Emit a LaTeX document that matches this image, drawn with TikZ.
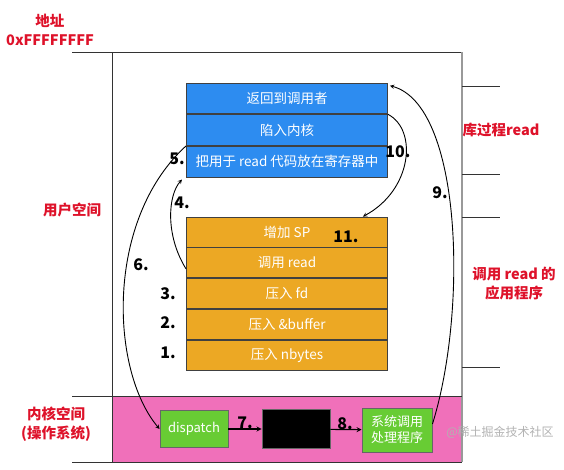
\documentclass[tikz,border=0pt]{standalone}
\usepackage{fontspec}
\setmainfont{Noto Sans CJK SC}
\usetikzlibrary{positioning}
\definecolor{userblue}{RGB}{45,140,240}
\definecolor{stackorange}{RGB}{236,168,36}
\definecolor{kernpink}{RGB}{240,112,186}
\definecolor{procgreen}{RGB}{104,204,52}
\definecolor{labelred}{RGB}{222,18,42}

\tikzset{
  bluerow/.style={draw=black!75,fill=userblue,text=white,minimum width=201pt,minimum height=30.7pt,inner sep=0pt,font=\fontsize{13.5}{15}\selectfont},
  orangerow/.style={bluerow,fill=stackorange,minimum height=30pt},
  procbox/.style={draw=black!60,fill=procgreen,text=white,inner sep=0pt,align=center,font=\fontsize{13}{16}\selectfont},
  steplabel/.style={font=\fontsize{16}{18}\selectfont\bfseries},
  arealabel/.style={text=labelred,align=center,font=\fontsize{14.5}{19}\selectfont\bfseries}
}

\begin{document}
\begin{tikzpicture}[>=stealth,x=1pt,y=-1pt,line width=0.9pt]
\useasboundingbox (0,0) rectangle (564,469);
% kernel band and frame
\fill[kernpink] (112,396) rectangle (462,462);
\draw[black!80] (72,52) -- (462,52);
\draw[black!80] (112,52) -- (112,462);
\draw[black!40,line width=1.4pt] (462,52) -- (462,462);
\draw[black!80] (72,396) -- (462,396);
\draw[black!80] (72,462) -- (462,462);
\foreach \y in {86,174,217,367}
  \draw[black!80] (462,\y) -- (500,\y);

% library procedure
\node[bluerow] (ret) at (287,98.5) {返回到调用者};
\node[bluerow,below=0pt of ret] (trap) {陷入内核};
\node[bluerow,below=0pt of trap] (reg) {把用于 read 代码放在寄存器中};

% application
\node[orangerow] (sp) at (287,232) {增加 SP};
\node[orangerow,below=0pt of sp] (call) {调用 read};
\node[orangerow,below=0pt of call] (fd) {压入 fd};
\node[orangerow,below=0pt of fd] (buf) {压入 \&buffer};
\node[orangerow,below=0pt of buf] (nb) {压入 nbytes};

% kernel
\node[procbox,minimum width=68pt,minimum height=37pt] (disp) at (194,429) {dispatch};
\node[draw=black!60,fill=black,minimum width=68pt,minimum height=39pt] (tbl) at (296,429) {};
\node[procbox,minimum width=70pt,minimum height=44pt] (handler) at (397,430) {系统调用\\处理程序};

\draw[->,line width=1.2pt] (disp) -- (tbl);
\draw[->,line width=1.2pt] (tbl) -- (handler);
\draw[->] ([yshift=-6pt]call.west) .. controls (165,235) and (168,195) .. ([xshift=-4pt,yshift=-2pt]reg.south west);
\draw[->] (reg.north west) .. controls (105,220) and (110,370) .. (disp.west);
\draw[->] ([yshift=6pt]handler.east) .. controls (468,310) and (462,105) .. ([xshift=2pt,yshift=-3pt]ret.north east);
\draw[->] (ret.south east) .. controls (418,130) and (412,190) .. ([xshift=-25pt]sp.north east);

% step numbers
\node[steplabel] (n1) at (168,353) {1.};
\node[steplabel] (n2) at (168,323) {2.};
\node[steplabel] (n3) at (168,294) {3.};
\node[steplabel] (n4) at (182,203) {4.};
\node[steplabel] (n5) at (177,159) {5.};
\node[steplabel] (n6) at (141,265) {6.};
\node[steplabel] (n7) at (245,423) {7.};
\node[steplabel] (n8) at (345,424) {8.};
\node[steplabel] (n9) at (440,193) {9.};
\node[steplabel] (n10) at (398,152) {10.};
\node[steplabel] (n11) at (346,237) {11.};

% area labels
\node[arealabel] (addr) at (50,30) {地址\\0xFFFFFFFF};
\node[arealabel] (user) at (72,210) {用户空间};
\node[arealabel] (kern) at (56,424) {内核空间\\(操作系统)};
\node[arealabel] (lib) at (501,130) {库过程read};
\node[arealabel] (app) at (514,284) {调用 read 的\\应用程序};

\node[text=black!30,font=\fontsize{12}{14}\selectfont] (mark) at (500,432) {@稀土掘金技术社区};
\end{tikzpicture}
\end{document}
